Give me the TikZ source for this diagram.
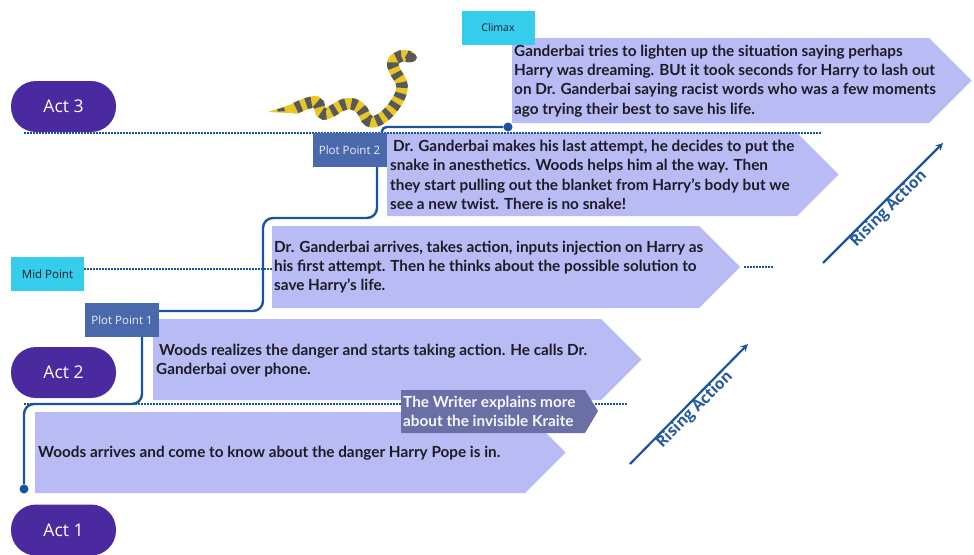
\documentclass[tikz,border=0pt]{standalone}
\usepackage{fontspec}
\setmainfont{Lato}
\newfontfamily\tagfont{Open Sans}
\usetikzlibrary{calc}

\definecolor{actpurple}{RGB}{74,42,158}
\definecolor{bannerblue}{RGB}{185,187,245}
\definecolor{tagcyan}{RGB}{54,204,236}
\definecolor{plotblue}{RGB}{74,104,172}
\definecolor{writerblue}{RGB}{106,112,166}
\definecolor{lineblue}{RGB}{24,84,160}
\definecolor{inkdark}{RGB}{28,28,36}
\definecolor{snakeyellow}{RGB}{232,198,38}
\definecolor{snakegray}{RGB}{88,88,90}

\tikzset{>=stealth,
  act/.style={fill=actpurple, rounded corners=25pt, minimum width=105pt,
    minimum height=51pt, text=white, font=\tagfont\fontsize{17.5}{20}\selectfont},
  tagbox/.style={fill=tagcyan, minimum width=73pt, minimum height=34pt,
    text=inkdark, font=\tagfont\fontsize{10.5}{12}\selectfont},
  plotbox/.style={fill=plotblue, minimum width=74pt, minimum height=34pt,
    text=white!90!plotblue, font=\tagfont\fontsize{11.5}{13}\selectfont},
  bannertext/.style={anchor=west, align=left, inner sep=0pt, text=inkdark,
    font=\bfseries\fontsize{15.3}{19.3}\selectfont},
  timeline/.style={draw=lineblue, line width=2.4pt, rounded corners=10pt},
  dotline/.style={draw=lineblue, line width=2.2pt, dash pattern=on 1.5pt off 1.5pt},
  rise/.style={->, draw=lineblue, line width=2.2pt},
  risetext/.style={text=lineblue!85!gray, inner sep=1pt, rotate=45,
    font=\tagfont\bfseries\fontsize{15.5}{17}\selectfont},
  dot/.style={circle, fill=lineblue, inner sep=0pt, minimum size=9pt}
}

% left, top, right, bottom of a banner with a 45 degree point
\newcommand{\chevron}[4]{%
  \fill[bannerblue] (#1,#2) -- (#3,#2) -- ({#3+(#4-#2)/2},{(#2+#4)/2})
    -- (#3,#4) -- (#1,#4) -- cycle;}

\begin{document}
\begin{tikzpicture}[x=1pt,y=-1pt]
  \useasboundingbox (0,0) rectangle (974,554);

  % banners
  \chevron{512}{38}{929}{123}
  \chevron{387}{133}{797}{216}
  \chevron{272}{226}{699}{308}
  \chevron{153}{319}{601}{400}
  \chevron{35}{412}{525}{493}
  \fill[writerblue] (401,390) -- (585,390) -- (598,411) -- (585,433)
    -- (401,433) -- cycle;

  % act borders
  \draw[dotline] (24,133) -- (822,133);
  \draw[dotline] (84,269) -- (272,269);
  \draw[dotline] (744,267) -- (773,267);
  \draw[dotline] (24,404) -- (401,404);
  \draw[dotline] (595,404) -- (628,404);

  % acts and turning points
  \node[act] (act3) at (63.5,106.5) {Act 3};
  \node[act] (act2) at (63.5,372.5) {Act 2};
  \node[act] (act1) at (63.5,530) {Act 1};
  \node[tagbox] (climax) at (498,27.5) {Climax};
  \node[tagbox, font=\tagfont\fontsize{11.5}{13}\selectfont] (midpt) at (47.5,274) {Mid Point};
  \node[plotbox] (pp1) at (122,320) {Plot Point 1};
  \node[plotbox] (pp2) at (349.5,150) {Plot Point 2};
  \node[dot] (start) at (24,489) {};
  \node[dot] (peak) at (508,127) {};

  % story line
  \draw[timeline] (start) -- ++(0,-85) -| ([xshift=20pt]pp1.south);
  \draw[timeline] ([yshift=9pt]pp1.east) -| (263,218) -| ([xshift=27.5pt]pp2.south);
  \draw[timeline, rounded corners=5pt] ([xshift=-5pt]pp2.north east) |- (peak);

  % banner texts
  \node[bannertext] (climaxtxt) at (514,81) {Ganderbai tries to lighten up the situation saying perhaps\\
    Harry was dreaming. BUt it took seconds for Harry to lash out\\
    on Dr. Ganderbai saying racist words who was a few moments\\
    ago trying their best to save his life.};
  \node[bannertext] (pp2txt) at (390,175) {\hspace{3pt}Dr. Ganderbai makes his last attempt, he decides to put the\\
    snake in anesthetics. Woods helps him al the way. Then\\
    they start pulling out the blanket from Harry’s body but we\\
    see a new twist. There is no snake!};
  \node[bannertext] (midtxt) at (274,267) {Dr. Ganderbai arrives, takes action, inputs injection on Harry as\\
    his first attempt. Then he thinks about the possible solution to\\
    save Harry’s life.};
  \node[bannertext] (pp1txt) at (156,360.5) {\hspace{3pt}Woods realizes the danger and starts taking action. He calls Dr.\\
    Ganderbai over phone.};
  \node[bannertext] (act1txt) at (38,453) {Woods arrives and come to know about the danger Harry Pope is in.};
  \node[bannertext, text=white!94!writerblue] (writertxt) at (403,411.5) {The Writer explains more\\
    about the invisible Kraite};

  % rising action arrows
  \coordinate (riseA) at (630,464);
  \coordinate (riseB) at (748,344);
  \coordinate (riseC) at (823,263);
  \coordinate (riseD) at (943,143);
  \draw[rise] (riseA) -- (riseB);
  \draw[rise] (riseC) -- (riseD);
  \node[risetext] (rise1txt) at ($(riseA)!0.5!(riseB)+(6,6)$) {Rising Action};
  \node[risetext] (rise2txt) at ($(riseC)!0.5!(riseD)+(6,6)$) {Rising Action};

  % the krait
  \fill[snakeyellow] (268,112) -- (297,102.5) -- (298,113.5) -- cycle;
  \fill[snakegray] (277,109.3) -- (284,107.2) -- (285,111.2) -- (278,111.6) -- cycle;
  \draw[snakeyellow, line width=11.5pt, line cap=round]
    plot[smooth, tension=0.7] coordinates {(296,108) (316,102) (324,114)
      (346,104) (360,108) (369,121) (382,118) (396,103) (402,86) (395,71)
      (393,62) (401,56) (410,57)};
  \draw[snakegray, line width=11.5pt, dash pattern=on 5.5pt off 5.5pt]
    plot[smooth, tension=0.7] coordinates {(296,108) (316,102) (324,114)
      (346,104) (360,108) (369,121) (382,118) (396,103) (402,86) (395,71)
      (393,62) (401,56) (410,57)};
  \fill[snakegray] (411,57.5) ellipse (6pt and 4.5pt);
\end{tikzpicture}
\end{document}
